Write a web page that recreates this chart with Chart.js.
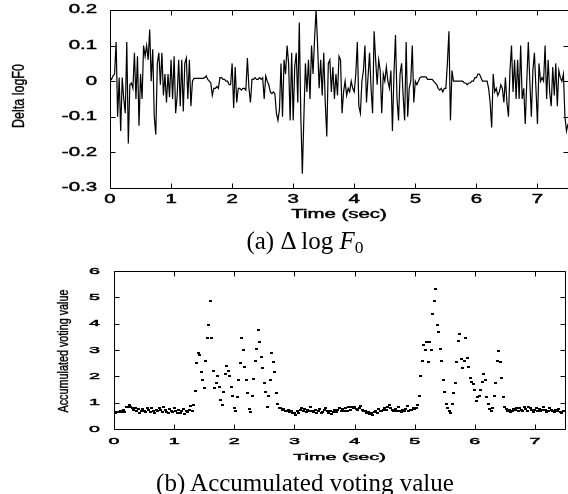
<!DOCTYPE html>
<html>
<head>
<meta charset="utf-8">
<title>Delta logF0 and accumulated voting value</title>
<script src="https://cdn.jsdelivr.net/npm/chart.js@4.4.1/dist/chart.umd.min.js"></script>
<style>
    html, body { margin: 0; padding: 0; overflow: hidden; background: #fff; }
    body { position: relative; width: 568px; height: 494px; }
    canvas { position: absolute; left: 0; }
    #deltaChart { top: 0; }
    #votingChart { top: 258px; }
    .caption {
        position: absolute;
        left: 0;
        width: 610px;
        text-align: center;
        font-family: "Liberation Serif", "Times New Roman", serif;
        font-size: 25px;
        line-height: 26px;
        color: #000;
        white-space: nowrap;
    }
    .caption sub { font-size: 70%; vertical-align: -0.22em; line-height: 0; }
    #captionA { top: 228px; }
    #captionB { top: 470px; }
</style>
</head>
<body>
<canvas id="deltaChart" width="570" height="228"></canvas>
<div class="caption" id="captionA">(a) Δ log <i>F</i><sub>0</sub></div>
<canvas id="votingChart" width="570" height="210"></canvas>
<div class="caption" id="captionB">(b) Accumulated voting value</div>

<script>
// One value every 25 ms, from 0 to 7.5 sec
var frameStep = 0.025;

var timeTicks = [0, 1, 2, 3, 4, 5, 6, 7];
var timeTickLabels = ['0', '1', '2', '3', '4', '5', '6', '7'];
var deltaTicks = [-0.3, -0.2, -0.1, 0, 0.1, 0.2];
var deltaTickLabels = ['-0.3', '-0.2', '-0.1', '0', '0.1', '0.2'];
var votingTicks = [0, 1, 2, 3, 4, 5, 6];
var votingTickLabels = ['0', '1', '2', '3', '4', '5', '6'];

// (a) Delta logF0, one row per half second
var deltaLogF0 = [
    0.01, 0.005, 0.015, 0.02, 0.11, -0.10, 0.01, -0.14, 0.01, -0.05, -0.09, 0.11, -0.175, -0.01, -0.005, -0.02, 0.08, -0.05, 0.07, -0.125,
    0.02, -0.05, 0.10, 0.07, 0.10, 0.06, 0.145, 0.0, 0.09, -0.10, -0.15, 0.05, 0.08, -0.01, 0.08, -0.04, 0.02, -0.06, 0.02, -0.045,
    0.06, -0.05, 0.07, -0.09, -0.04, 0.06, -0.07, 0.06, -0.085, 0.05, 0.065, -0.05, 0.06, -0.07, 0.0, 0.008, 0.008, 0.008, 0.008, 0.008,
    0.008, 0.008, 0.01, 0.015, 0.005, 0.0, -0.005, -0.04, -0.02, -0.02, -0.015, -0.02, 0.01, 0.01, 0.005, 0.005, 0.0, 0.0, -0.01, -0.01,
    0.05, -0.075, 0.04, -0.06, -0.02, -0.02, -0.025, -0.02, -0.02, -0.025, 0.065, -0.02, -0.06, 0.005, 0.005, 0.01, 0.005, 0.005, 0.01, 0.005,
    0.01, -0.05, 0.015, 0.0, -0.01, -0.03, -0.035, -0.03, -0.035, -0.09, -0.11, -0.08, 0.05, -0.1, 0.06, 0.02, 0.1, 0.05, -0.11, 0.08,
    -0.11, 0.04, 0.08, -0.06, 0.165, -0.1, -0.26, -0.1, 0.05, -0.03, 0.06, -0.05, 0.1, 0.02, 0.12, 0.2, 0.1, -0.02, 0.06, -0.04,
    0.08, -0.06, -0.155, 0.05, 0.06, -0.03, 0.04, -0.05, 0.02, -0.04, 0.07, 0.06, -0.09, -0.03, 0.0, -0.04, -0.02, -0.03, 0.0, -0.02,
    -0.03, 0.02, 0.11, -0.07, -0.09, 0.0, 0.03, 0.1, -0.06, 0.01, 0.08, -0.02, -0.09, 0.14, 0.06, -0.01, 0.06, 0.03, -0.09, 0.02,
    0.0, 0.04, 0.0, -0.02, 0.03, -0.14, 0.02, 0.13, -0.05, -0.11, 0.02, 0.05, -0.04, -0.11, 0.11, -0.1, -0.02, 0.0, 0.1, -0.06,
    0.0, -0.01, 0.0, 0.01, 0.012, 0.012, 0.012, 0.012, 0.005, 0.005, 0.005, 0.005, 0.0, -0.005, -0.01, -0.02, -0.025, -0.02, -0.03, -0.02,
    -0.02, 0.05, 0.14, -0.11, 0.03, 0.0, 0.0, 0.0, 0.0, 0.0, 0.0, 0.0, -0.005, -0.005, -0.01, -0.005, -0.005, 0.0, 0.0, 0.01,
    0.01, 0.02, 0.02, 0.01, 0.0, 0.0, 0.0, 0.0, -0.02, -0.06, -0.13, 0.02, -0.03, -0.02, -0.04, -0.03, -0.01, -0.02, -0.06, 0.01,
    -0.06, -0.1, 0.03, 0.1, -0.03, 0.06, -0.05, 0.06, -0.05, 0.1, -0.05, -0.02, -0.12, 0.0, 0.11, 0.0, -0.1, 0.03, 0.08, -0.02,
    -0.12, 0.05, 0.0, 0.01, 0.0, 0.1, -0.05, 0.06, -0.03, -0.07, 0.04, -0.04, 0.05, -0.07, 0.03, 0.01, 0.0, 0.02, -0.1, -0.14,
    -0.12
];

// (b) Accumulated voting value, one row per half second
var votingValue = [
    0.65, 0.62, 0.64, 0.63, 0.7, 0.66, 0.72, 0.65, 0.82, 0.85, 0.92, 0.84, 0.78, 0.72, 0.8, 0.68, 0.75, 0.62, 0.7, 0.77,
    0.7, 0.64, 0.78, 0.72, 0.66, 0.8, 0.7, 0.62, 0.74, 0.68, 0.8, 0.71, 0.65, 0.85, 0.72, 0.66, 0.62, 0.76, 0.7, 0.65,
    0.78, 0.7, 0.6, 0.72, 0.62, 0.68, 0.75, 0.58, 0.7, 0.65, 0.72, 0.86, 0.68, 0.9, 1.45, 2.5, 2.9, 2.8, 2.15, 1.85,
    1.55, 2.6, 3.45, 3.95, 4.85, 3.45, 2.2, 1.55, 1.75, 2.0, 1.6, 1.1, 0.9, 1.4, 2.1, 2.4, 2.2, 2.0, 1.6, 1.25,
    0.78, 0.7, 1.2, 1.85, 2.5, 3.45, 3.0, 2.35, 1.85, 1.35, 0.75, 0.66, 1.25, 1.9, 2.6, 3.05, 3.75, 3.3, 2.75, 2.3,
    1.75, 1.4, 0.85, 1.25, 1.85, 2.9, 2.55, 2.15, 1.35, 0.95, 0.8, 0.78, 0.72, 0.75, 0.7, 0.68, 0.72, 0.65, 0.7, 0.6,
    0.62, 0.55, 0.68, 0.6, 0.72, 0.8, 0.7, 0.76, 0.66, 0.72, 0.68, 0.82, 0.7, 0.65, 0.74, 0.62, 0.68, 0.75, 0.6, 0.66,
    0.72, 0.78, 0.68, 0.62, 0.7, 0.58, 0.66, 0.72, 0.64, 0.74, 0.8, 0.7, 0.75, 0.68, 0.78, 0.7, 0.82, 0.74, 0.85, 0.78,
    0.84, 0.76, 0.72, 0.8, 0.88, 0.74, 0.68, 0.7, 0.62, 0.66, 0.58, 0.6, 0.55, 0.64, 0.7, 0.62, 0.76, 0.7, 0.68, 0.72,
    0.8, 0.74, 0.85, 0.9, 0.78, 0.72, 0.68, 0.75, 0.7, 0.82, 0.7, 0.66, 0.72, 0.68, 0.76, 0.88, 0.7, 0.74, 0.72, 0.78,
    0.75, 0.8, 0.9, 1.25, 2.0, 2.6, 3.2, 3.0, 3.3, 2.55, 3.3, 3.0, 4.35, 4.85, 5.3, 3.95, 3.7, 3.05, 2.6, 1.85,
    1.4, 0.95, 0.8, 0.7, 0.62, 0.95, 1.35, 1.75, 2.55, 3.35, 3.6, 2.65, 2.3, 2.6, 3.45, 2.7, 2.35, 1.95, 1.8, 1.7,
    1.5, 1.05, 1.2, 1.25, 1.5, 1.8, 2.1, 1.85, 1.2, 0.95, 0.75, 0.7, 0.8, 1.25, 1.75, 2.6, 2.95, 2.55, 1.95, 1.2,
    0.85, 0.75, 0.68, 0.72, 0.66, 0.7, 0.75, 0.72, 0.78, 0.68, 0.8, 0.74, 0.7, 0.82, 0.76, 0.7, 0.84, 0.78, 0.72, 0.66,
    0.74, 0.8, 0.7, 0.76, 0.68, 0.72, 0.82, 0.74, 0.66, 0.7, 0.78, 0.72, 0.68, 0.64, 0.74, 0.7, 0.76, 0.66, 0.62, 0.7,
    0.68
];

// Pair each value with its time
function toPoints(values) {
    return values.map(function(v, i) {
        return { x: i * frameStep, y: v };
    });
}

// Use the tick values from the arrays above
function fixedTicks(values) {
    return function(axis) {
        axis.ticks = values.map(function(v) { return { value: v }; });
    };
}

// Text widened horizontally, like the original plot's fonts
// (a thin outline gives it the medium weight of the original)
function stretchedText(ctx, text, x, y, sx, align) {
    ctx.save();
    ctx.translate(x, y);
    ctx.scale(sx, 1);
    ctx.textAlign = align;
    ctx.textBaseline = 'middle';
    ctx.lineWidth = 0.45;
    ctx.fillText(text, 0, 0);
    ctx.strokeText(text, 0, 0);
    ctx.restore();
}

// Gnuplot-like frame: box, inward ticks on all sides, labels and titles
var gnuFrame = {
    id: 'gnuFrame',
    afterDraw: function(chart, args, o) {
        var ctx = chart.ctx;
        var a = chart.chartArea;
        var xs = chart.scales.x;
        var ys = chart.scales.y;
        var L = Math.round(a.left) + 0.5;
        var R = Math.round(a.right) + 0.5;
        var T = Math.round(a.top) + 0.5;
        var B = Math.round(a.bottom) + 0.5;

        ctx.save();
        ctx.strokeStyle = '#000';
        ctx.lineWidth = 1;
        ctx.beginPath();
        ctx.rect(L, T, R - L, B - T);
        xs.ticks.forEach(function(t) {
            var px = Math.round(xs.getPixelForValue(t.value)) + 0.5;
            ctx.moveTo(px, B);
            ctx.lineTo(px, B - o.tickLength);
            ctx.moveTo(px, T);
            ctx.lineTo(px, T + o.tickLength);
        });
        ys.ticks.forEach(function(t) {
            var py = Math.round(ys.getPixelForValue(t.value)) + 0.5;
            ctx.moveTo(L, py);
            ctx.lineTo(L + o.tickLength, py);
            ctx.moveTo(R, py);
            ctx.lineTo(R - o.tickLength, py);
        });
        ctx.stroke();

        ctx.fillStyle = '#000';
        ctx.font = o.fontSize + 'px "Liberation Sans", Arial, sans-serif';
        xs.ticks.forEach(function(t, i) {
            stretchedText(ctx, o.xLabels[i], xs.getPixelForValue(t.value), a.bottom + o.xLabelOffset, o.stretch, 'center');
        });
        ys.ticks.forEach(function(t, i) {
            stretchedText(ctx, o.yLabels[i], a.left - o.yLabelGap, ys.getPixelForValue(t.value), o.stretch, 'right');
        });
        stretchedText(ctx, o.xTitle, (a.left + a.right) / 2, a.bottom + o.xTitleOffset, o.stretch, 'center');

        // rotated y title, glyphs a little taller across
        ctx.font = o.yTitleSize + 'px "Liberation Sans", Arial, sans-serif';
        ctx.translate(o.yTitleX, (a.top + a.bottom) / 2 + o.yTitleShift);
        ctx.rotate(-Math.PI / 2);
        ctx.scale(1, o.yTitleStretch);
        ctx.textAlign = 'center';
        ctx.textBaseline = 'middle';
        ctx.lineWidth = 0.3;
        ctx.fillText(o.yTitle, 0, 0);
        ctx.strokeText(o.yTitle, 0, 0);
        ctx.restore();
    }
};

function hiddenAxis(extra) {
    var axis = {
        type: 'linear',
        grid: { display: false },
        border: { display: false },
        ticks: { display: false }
    };
    for (var k in extra) {
        axis[k] = extra[k];
    }
    return axis;
}

// small dash used as the dot marker in (b)
var dot = document.createElement('canvas');
dot.width = 3;
dot.height = 2;
var dotCtx = dot.getContext('2d');
dotCtx.fillStyle = '#000';
dotCtx.fillRect(0, 0, 3, 2);

new Chart(document.getElementById('deltaChart'), {
    type: 'line',
    data: {
        datasets: [{
            label: 'Delta logF0',
            data: toPoints(deltaLogF0),
            borderColor: '#000',
            borderWidth: 1.2,
            pointRadius: 0,
            tension: 0,
            fill: false
        }]
    },
    options: {
        responsive: false,
        animation: false,
        events: [],
        layout: { padding: { left: 13, top: 10, right: 2, bottom: 0 } },
        plugins: {
            legend: { display: false },
            tooltip: { enabled: false },
            gnuFrame: {
                tickLength: 5,
                fontSize: 12,
                stretch: 1.7,
                xLabels: timeTickLabels,
                yLabels: deltaTickLabels,
                xLabelOffset: 12,
                yLabelGap: 13,
                xTitle: 'Time (sec)',
                xTitleOffset: 27,
                yTitle: 'Delta logF0',
                yTitleSize: 12.5,
                yTitleStretch: 1.3,
                yTitleX: 20,
                yTitleShift: -3
            }
        },
        scales: {
            x: hiddenAxis({
                min: 0,
                max: 7.5,
                afterBuildTicks: fixedTicks(timeTicks),
                afterFit: function(s) { s.height = 40; }
            }),
            y: hiddenAxis({
                min: -0.3,
                max: 0.2,
                afterBuildTicks: fixedTicks(deltaTicks),
                afterFit: function(s) { s.width = 97; }
            })
        }
    },
    plugins: [gnuFrame]
});

new Chart(document.getElementById('votingChart'), {
    type: 'scatter',
    data: {
        datasets: [{
            label: 'Accumulated voting value',
            data: toPoints(votingValue),
            pointStyle: dot,
            pointRadius: 1.5,
            showLine: false
        }]
    },
    options: {
        responsive: false,
        animation: false,
        events: [],
        layout: { padding: { left: 13, top: 13, right: 2, bottom: 0 } },
        plugins: {
            legend: { display: false },
            tooltip: { enabled: false },
            gnuFrame: {
                tickLength: 5,
                fontSize: 9.5,
                stretch: 2.08,
                xLabels: timeTickLabels,
                yLabels: votingTickLabels,
                xLabelOffset: 12,
                yLabelGap: 14,
                xTitle: 'Time (sec)',
                xTitleOffset: 28,
                yTitle: 'Accumulated voting value',
                yTitleSize: 10.8,
                yTitleStretch: 1.35,
                yTitleX: 64,
                yTitleShift: 1
            }
        },
        scales: {
            x: hiddenAxis({
                min: 0,
                max: 7.5,
                afterBuildTicks: fixedTicks(timeTicks),
                afterFit: function(s) { s.height = 39; }
            }),
            y: hiddenAxis({
                min: 0,
                max: 6,
                afterBuildTicks: fixedTicks(votingTicks),
                afterFit: function(s) { s.width = 101; }
            })
        }
    },
    plugins: [gnuFrame]
});
</script>
</body>
</html>
